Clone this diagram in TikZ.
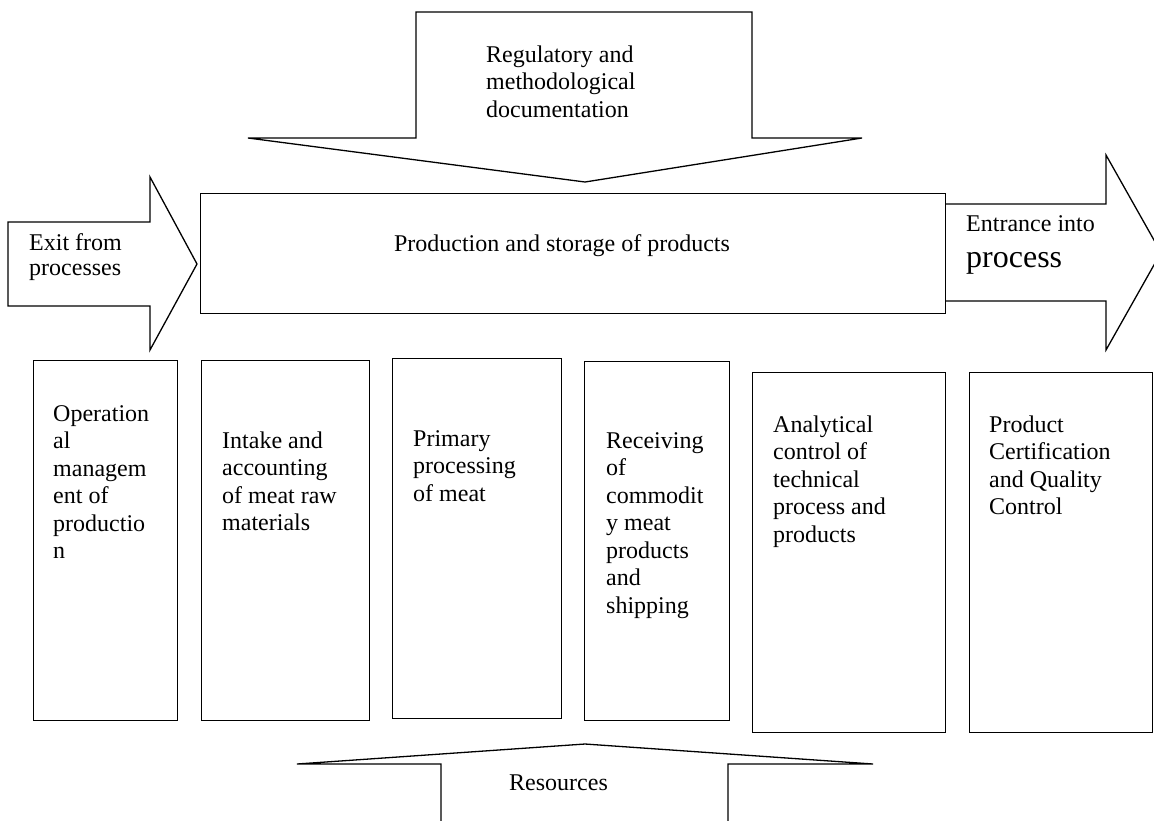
\documentclass[tikz,border=0pt]{standalone}
\usepackage{fontspec}
\setmainfont{Liberation Serif}
\begin{document}
\begin{tikzpicture}[x=1pt,y=-1pt,
  outline/.style={draw=black, line width=1.3pt, line join=miter},
  block/.style={outline, anchor=north west, inner sep=0pt, fill=white},
  label/.style={anchor=north west, inner sep=0pt, align=left,
    font=\fontsize{24}{27.5}\selectfont},
  oneline/.style={anchor=base west, inner sep=0pt, font=\fontsize{24}{27.5}\selectfont},
]
\fill[white] (0,0) rectangle (1154,820);
\useasboundingbox (0,0) rectangle (1154,820);
\clip (0,0) rectangle (1154,820);

% central process box
\node[block, minimum width=745pt, minimum height=120pt] (main) at (200,193) {};
\node[anchor=base, inner sep=0pt, font=\fontsize{24}{27.5}\selectfont] (maintext) at (562,251)
  {Production and storage of products};

% control arrow from above
\draw[outline] (416,12) -- (752,12) -- (752,138) -- (862,138) -- (585,182)
  -- (248,138) -- (416,138) -- cycle;
\node[label] (ctrl) at (486,42.75) {\strut Regulatory and\\methodological\\documentation};

% arrow entering from the left
\draw[outline] (8,222) -- (150,222) -- (150,177) -- (197,264) -- (150,350)
  -- (150,306) -- (8,306) -- cycle;
\node[oneline] (exit1) at (29,250) {Exit from};
\node[oneline] (exit2) at (29,275) {processes};

% arrow leaving to the right
\draw[outline] (945,204) -- (1106,204) -- (1106,155) -- (1161,252.5) -- (1106,350)
  -- (1106,301) -- (945,301);
\node[oneline] (entr1) at (966,231) {Entrance into};
\node[anchor=base west, inner sep=0pt, font=\fontsize{32}{36}\selectfont] (entr2) at (966,267) {process};

% mechanism arrow from below
\draw[outline] (441,830) -- (441,764) -- (297,764) -- (585,744) -- (873,764)
  -- (728,764) -- (728,830);
\node[oneline] (res) at (509,790) {Resources};

% sub-process boxes
\node[block, minimum width=144pt, minimum height=360pt] (b1) at (33,360) {};
\node[block, minimum width=168pt, minimum height=360pt] (b2) at (201,360) {};
\node[block, minimum width=169pt, minimum height=360pt] (b3) at (392,358) {};
\node[block, minimum width=145pt, minimum height=359pt] (b4) at (584,361) {};
\node[block, minimum width=193pt, minimum height=360pt] (b5) at (752,372) {};
\node[block, minimum width=183pt, minimum height=360pt] (b6) at (969,372) {};

\node[label] (t1) at (53,401.75) {\strut Operation\\al\\managem\\ent of\\productio\\n};
\node[label] (t2) at (222,428.75) {\strut Intake and\\accounting\\of meat raw\\materials};
\node[label] (t3) at (413,426.75) {\strut Primary\\processing\\of meat};
\node[label] (t4) at (606,428.75) {\strut Receiving\\of\\commodit\\y meat\\products\\and\\shipping};
\node[label] (t5) at (773,412.75) {\strut Analytical\\control of\\technical\\process and\\products};
\node[label] (t6) at (989,412.75) {\strut Product\\Certification\\and Quality\\Control};
\end{tikzpicture}
\end{document}
